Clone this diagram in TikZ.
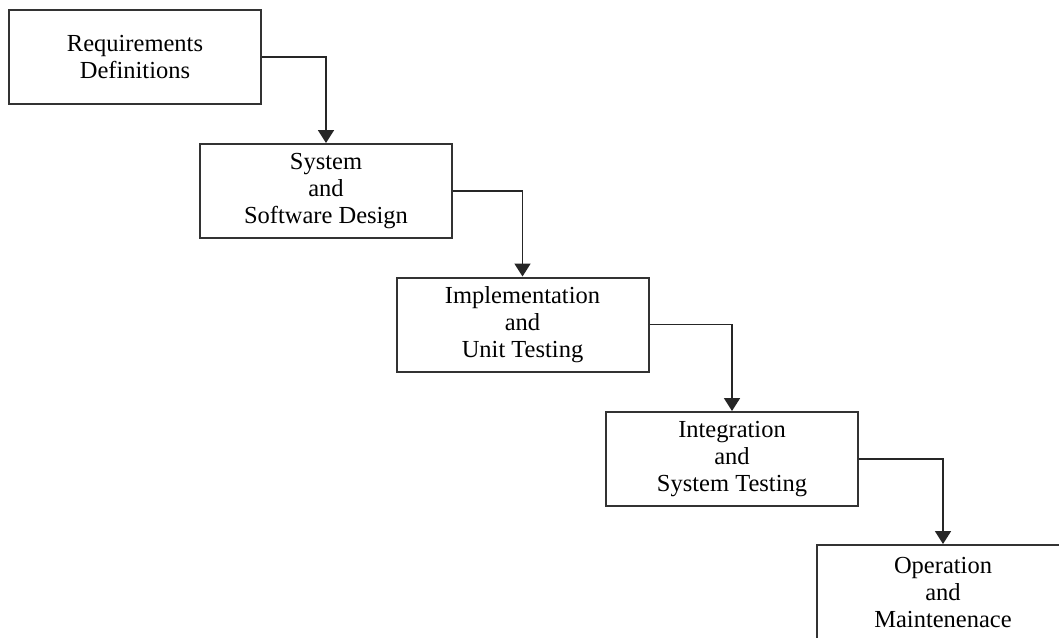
\documentclass[tikz,border=0pt]{standalone}
\usepackage{fontspec}
\setmainfont{Liberation Serif}
\usetikzlibrary{arrows.meta}
\begin{document}
\begin{tikzpicture}[x=1pt,y=-1pt,
  stage/.style={draw=black!80, line width=2pt, fill=white, minimum width=252pt, minimum height=94pt,
    align=center, inner sep=0pt, font=\fontsize{24.5}{27}\selectfont},
  flow/.style={draw=black!85, line width=1.8pt, -{Triangle[width=16pt,length=13pt]}}]
\useasboundingbox (0,0) rectangle (1059,637);
\clip (0,0) rectangle (1059,637);
\fill[white] (0,0) rectangle (1059,637);
\node[stage] (b1) at (135,57) {Requirements\\Definitions};
\node[stage] (b2) at (326,191) {System\\and\\Software Design};
\node[stage] (b3) at (522.5,324.5) {Implementation\\and\\Unit Testing};
\node[stage] (b4) at (732,459) {Integration\\and\\System Testing};
\node[stage] (b5) at (943,592) {Operation\\and\\Maintenenace};
\draw[flow] (b1.east) -| (b2.north);
\draw[flow] (b2.east) -| (b3.north);
\draw[flow] (b3.east) -| (b4.north);
\draw[flow] (b4.east) -| (b5.north);
\end{tikzpicture}
\end{document}
